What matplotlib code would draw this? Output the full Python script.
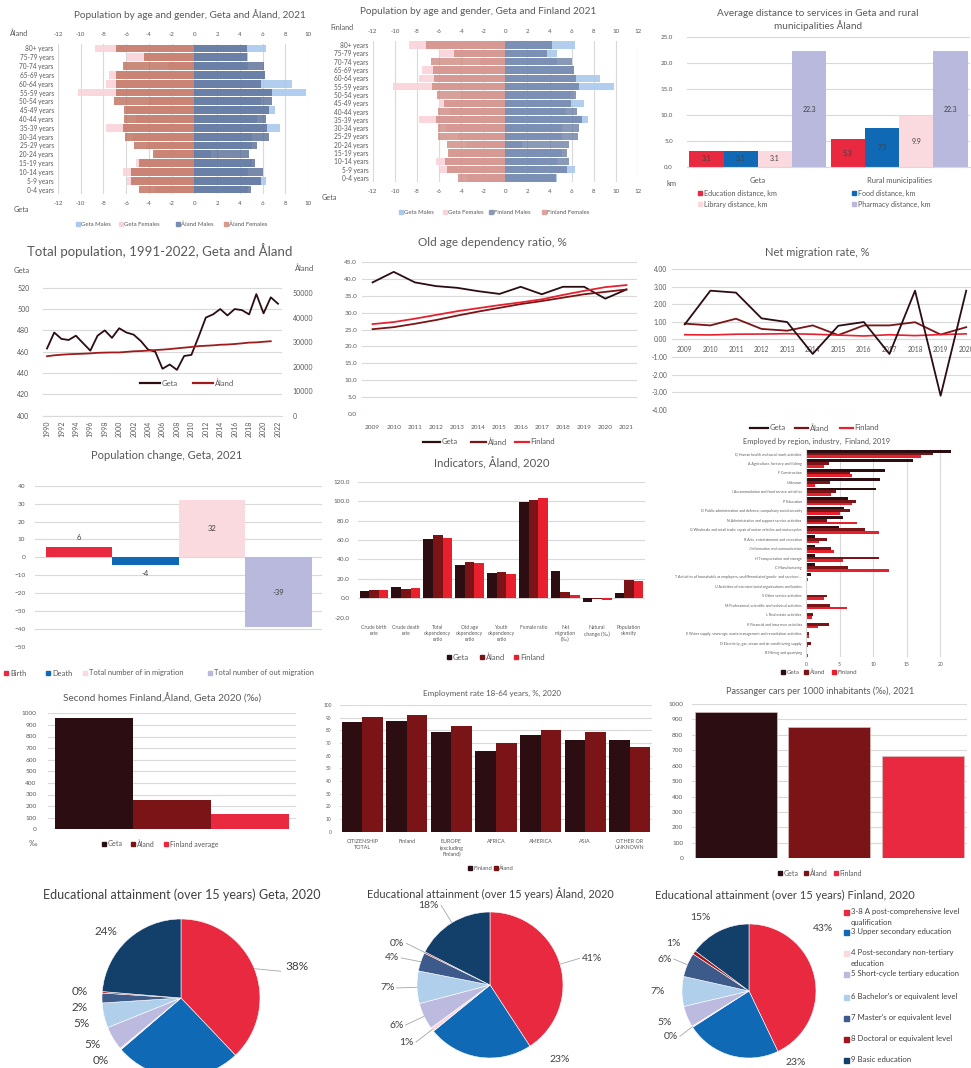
import numpy as np
import matplotlib
matplotlib.use("Agg")
import matplotlib.pyplot as plt
from matplotlib.lines import Line2D

plt.rcParams['font.family'] = ['Lato', 'DejaVu Sans']

# ---------------- data ----------------
age_groups = ['80+ years', '75-79 years', '70-74 years', '65-69 years', '60-64 years',
              '55-59 years', '50-54 years', '45-49 years', '40-44 years', '35-39 years',
              '30-34 years', '25-29 years', '20-24 years', '15-19 years', '10-14 years',
              '5-9 years', '0-4 years']
geta_females = [8.7, 5.9, 2.3, 7.5, 7.8, 10.2, 3.9, 6.0, 5.1, 7.8, 5.4, 4.3, 3.5, 5.1, 6.3, 5.9, 3.5]
geta_males = [6.3, 4.7, 4.7, 6.2, 8.6, 9.8, 5.9, 7.1, 5.5, 7.5, 5.1, 5.1, 1.5, 5.1, 4.7, 6.3, 4.7]
aland_females = [6.9, 4.4, 6.3, 6.9, 6.9, 6.9, 7.1, 6.2, 6.2, 6.3, 6.1, 5.3, 3.6, 4.9, 5.6, 5.6, 4.9]
aland_males = [4.6, 4.6, 6.1, 6.2, 5.9, 6.8, 6.8, 6.6, 6.3, 6.4, 6.6, 5.5, 4.8, 5.3, 6.0, 5.9, 5.0]
finland_females = [7.2, 4.65, 6.7, 6.5, 6.45, 6.6, 6.15, 5.55, 6.05, 6.3, 6.1, 6.05, 5.3, 5.15, 5.45, 5.25, 4.3]
finland_males = [4.2, 3.8, 6.05, 6.25, 6.4, 6.7, 6.35, 5.9, 6.5, 6.9, 6.7, 6.6, 5.75, 5.6, 5.8, 5.6, 4.6]

dist_categories = ['Geta', 'Rural municipalities']
dist_series = ['Education distance, km', 'Food distance, km', 'Library distance, km', 'Pharmacy distance, km']
dist_education = [3.1, 5.3]
dist_food = [3.1, 7.5]
dist_library = [3.1, 9.9]
dist_pharmacy = [22.3, 22.3]

pop_years = list(range(1990, 2023))
geta_pop = [463, 478, 472, 471, 475, 468, 461, 475, 480, 473, 482, 478, 476, 470, 462, 460,
            444, 448, 443, 456, 457, 474, 492, 495, 500, 494, 500, 499, 495, 514, 496, 511, 505]
aland_pop = [24231, 24604, 24847, 25046, 25158, 25257, 25392, 25625, 25706, 25776, 25776,
             26008, 26257, 26347, 26530, 26766, 26923, 27153, 27456, 27734, 28007, 28355,
             28502, 28666, 28916, 29013, 29214, 29489, 29789, 29884, 30129, 30344]

oad_years = list(range(2009, 2022))
oad_geta = [38.9, 42.0, 38.9, 37.8, 37.3, 36.3, 35.5, 37.6, 35.4, 37.6, 37.6, 34.1, 36.8]
oad_aland = [25.1, 25.7, 26.7, 27.8, 29.1, 30.3, 31.4, 32.5, 33.4, 34.4, 35.4, 36.1, 36.8]
oad_finland = [26.6, 27.2, 28.2, 29.3, 30.4, 31.3, 32.2, 33.0, 33.9, 35.2, 36.4, 37.5, 38.1]

mig_years = list(range(2009, 2021))
mig_geta = [0.86, 2.77, 2.66, 1.2, 0.99, -0.82, 0.78, 0.99, -0.82, 2.77, -3.19, 2.77]
mig_aland = [0.9, 0.8, 1.18, 0.6, 0.5, 0.8, 0.25, 0.8, 0.8, 0.98, 0.28, 0.7]
mig_finland = [0.27, 0.26, 0.3, 0.31, 0.33, 0.3, 0.25, 0.2, 0.27, 0.22, 0.28, 0.32]

change_labels = ['Birth', 'Death', 'Total number of in migration', 'Total number of out migration']
change_values = [6, -4, 32, -39]

ind_categories = ['Crude birth\nrate', 'Crude death\nrate', 'Total\ndependency\nratio',
                  'Old age\ndependency\nratio', 'Youth\ndependency\nratio', 'Female ratio',
                  'Net\nmigration\n(‰)', 'Natural\nchange (‰)', 'Population\ndensity']
ind_geta = [8.0, 11.7, 60.7, 34.0, 26.4, 98.8, 27.8, -4.1, 5.8]
ind_aland = [8.7, 9.6, 64.9, 37.7, 27.5, 101.2, 6.9, -0.7, 19.2]
ind_finland = [8.3, 10.3, 61.8, 36.0, 25.4, 102.9, 3.1, -1.7, 18.2]

industries = ['Q Human health and social work activities',
              'A Agriculture, forestry and fishing',
              'F Construction',
              'Unknown',
              'I Accommodation and food service activities',
              'P Education',
              'O Public administration and defence; compulsory social security',
              'N Administrative and support service activities',
              'G Wholesale and retail trade; repair of motor vehicles and motorcycles',
              'R Arts, entertainment and recreation',
              'J Information and communication',
              'H Transportation and storage',
              'C Manufacturing',
              'T Activities of households as employers; undifferentiated goods- and services-...',
              'U Activities of extraterritorial organisations and bodies',
              'S Other service activities',
              'M Professional, scientific and technical activities',
              'L Real estate activities',
              'K Financial and insurance activities',
              'E Water supply; sewerage, waste management and remediation activities',
              'D Electricity, gas, steam and air conditioning supply',
              'B Mining and quarrying']
emp_geta = [21.6, 16.0, 11.8, 11.1, 10.4, 6.3, 5.6, 5.5, 4.9, 1.3, 1.3, 1.3, 1.3, 0.7,
            0.0, 0.0, 0.0, 0.0, 0.0, 0.0, 0.0, 0.0]
emp_aland = [18.9, 3.5, 6.6, 3.6, 4.4, 7.4, 6.5, 3.1, 8.8, 3.1, 3.7, 10.9, 6.2, 0.05,
             0.0, 3.2, 3.6, 1.1, 3.5, 0.4, 0.7, 0.0]
emp_finland = [17.1, 2.7, 6.9, 1.4, 3.7, 6.9, 5.0, 7.6, 10.9, 1.9, 4.2, 5.5, 12.4, 0.25,
               0.01, 2.7, 6.1, 0.9, 1.8, 0.4, 0.35, 0.25]

second_labels = ['Geta', 'Åland', 'Finland average']
second_values = [960, 250, 130]

er_categories = ['CITIZENSHIP\nTOTAL', 'Finland', 'EUROPE\n(excluding\nFinland)', 'AFRICA',
                 'AMERICA', 'ASIA', 'OTHER OR\nUNKNOWN']
er_finland = [86.8, 87.4, 78.9, 63.4, 76.1, 72.4, 72.4]
er_aland = [90.8, 92.1, 83.7, 69.7, 80.3, 78.7, 66.8]

car_labels = ['Geta', 'Åland', 'Finland']
car_values = [946, 849, 663]

edu_labels = ['3-8 A post-comprehensive level\nqualification', '3 Upper secondary education',
              '4 Post-secondary non-tertiary\neducation', '5 Short-cycle tertiary education',
              "6 Bachelor's or equivalent level", "7 Master's or equivalent level",
              '8 Doctoral or equivalent level', '9 Basic education']
edu_geta = [37.9, 25.8, 0.3, 4.9, 5.1, 2.0, 0.3, 23.7]
edu_aland = [40.8, 23.3, 0.9, 5.9, 7.2, 4.1, 0.3, 17.5]
edu_finland = [42.9, 23.0, 0.3, 5.1, 7.2, 5.8, 0.9, 14.8]

# ---------------- style ----------------
W, H = 971, 1068
fig = plt.figure(figsize=(W / 100, H / 100), dpi=100)
fig.patch.set_facecolor('white')

TXT = '#595959'
DTXT = '#404040'
GRID = '#d9d9d9'
C_GETA = '#2b0d12'
C_ALAND = '#7a1416'
C_FIN = '#e8202e'
C_RED = '#e8293f'
C_BLUE = '#0f69b4'
C_PINK = '#fad9df'
C_LAV = '#b9b9dd'
PYR_PINK = '#f9d3da'
PYR_LBLUE = '#a9c9ee'


def add_ax(x0, y0, x1, y1):
    return fig.add_axes([x0 / W, 1 - y1 / H, (x1 - x0) / W, (y1 - y0) / H])


def ftext(x, y, s, size, ha='center', va='center', color=TXT, **kw):
    fig.text(x / W, 1 - y / H, s, fontsize=size, ha=ha, va=va, color=color, **kw)


def leg_sq(x, y, color, label, size=5.0, ms=3.5, tcolor=TXT):
    fig.add_artist(Line2D([x / W], [1 - y / H], marker='s', ms=ms, color=color, lw=0,
                          transform=fig.transFigure))
    ftext(x + ms * 0.7 + 1.5, y, label, size, ha='left', color=tcolor)


def leg_ln(x, y, color, label, size=5.5, length=18, lw=1.6):
    fig.add_artist(Line2D([x / W, (x + length) / W], [1 - y / H, 1 - y / H], color=color,
                          lw=lw, transform=fig.transFigure))
    ftext(x + length + 1.5, y, label, size, ha='left')


def clean(ax, grid='y', lsize=4.5):
    for s in ax.spines.values():
        s.set_visible(False)
    ax.tick_params(length=0, colors=TXT, labelsize=lsize)
    if grid:
        ax.grid(axis=grid, color=GRID, lw=0.8)
    ax.set_axisbelow(True)


# ---------------- pyramids ----------------
def pyramid(rect, xlim, ticks, gf, gm, of, om, c_of, c_om):
    ax = add_ax(*rect)
    n = len(age_groups)
    y = np.arange(n)[::-1]
    ax.barh(y, -np.array(gf), height=0.88, color=PYR_PINK, alpha=0.9)
    ax.barh(y, gm, height=0.88, color=PYR_LBLUE, alpha=0.9)
    ax.barh(y, -np.array(of), height=0.88, color=c_of, alpha=0.82)
    ax.barh(y, om, height=0.88, color=c_om, alpha=0.82)
    ax.set_xlim(*xlim)
    ax.set_ylim(-0.5, n - 0.5)
    ax.set_xticks(ticks)
    ax.set_xticklabels([str(t) for t in ticks])
    ax.set_yticks(y)
    ax.set_yticklabels(age_groups)
    clean(ax, grid='x', lsize=4.4)
    ax.tick_params(axis='y', labelsize=4.7, pad=3)
    ax.tick_params(axis='x', labeltop=True, labelbottom=True, pad=5)
    return ax


pyramid((58, 44, 308, 194), (-12, 10), list(range(-12, 11, 2)),
        geta_females, geta_males, aland_females, aland_males, '#c0725f', '#5b6f98')
ftext(190, 15, 'Population by age and gender, Geta and Åland, 2021', 7.2)
ftext(10, 33, 'Åland', 5.2, ha='left')
ftext(14, 210, 'Geta', 5.2, ha='left')
for x, c, l in zip([78, 121, 178, 226], [PYR_LBLUE, PYR_PINK, '#7a8bb0', '#d49a8c'],
                   ['Geta Males', 'Geta Females', 'Åland Males', 'Åland Females']):
    leg_sq(x, 224, c, l, size=4.3, ms=2.5)

pyramid((372.7, 41, 638, 182), (-12, 12), list(range(-12, 13, 2)),
        geta_females, geta_males, finland_females, finland_males, '#cf8c84', '#6f83a8')
ftext(478, 12, 'Population by age and gender, Geta and Finland 2021', 7.2)
ftext(330, 28, 'Finland', 5.2, ha='left')
ftext(322, 198, 'Geta', 5.2, ha='left')
for x, c, l in zip([401, 445, 491, 544], [PYR_LBLUE, PYR_PINK, '#8a9ab8', '#dba49c'],
                   ['Geta Males', 'Geta Females', 'Finland Males', 'Finland Females']):
    leg_sq(x, 212, c, l, size=4.3, ms=2.5)

# ---------------- distance to services ----------------
ax = add_ax(687, 37, 970, 167)
dist_vals = [dist_education, dist_food, dist_library, dist_pharmacy]
dist_cols = [C_RED, C_BLUE, C_PINK, C_LAV]
xc = np.arange(len(dist_categories))
for k, (vals, col) in enumerate(zip(dist_vals, dist_cols)):
    bars = ax.bar(xc + (k - 1.5) * 0.242, vals, width=0.242, color=col)
    ax.bar_label(bars, labels=[f'{v:.1f}' for v in vals], label_type='center',
                 fontsize=5, color=DTXT)
ax.set_xlim(-0.5, 1.5)
ax.set_ylim(0, 25)
ax.set_yticks(np.arange(0, 26, 5))
ax.set_yticklabels([f'{v:.1f}' for v in np.arange(0, 26, 5)])
ax.set_xticks(xc)
ax.set_xticklabels(dist_categories)
clean(ax, lsize=4.5)
ax.tick_params(axis='x', labelsize=5.5, pad=7)
ax.tick_params(axis='y', pad=10)
ax.spines['bottom'].set_visible(True)
ax.spines['bottom'].set_color(GRID)
ftext(818, 13, 'Average distance to services in Geta and rural', 7.2)
ftext(818, 26, 'municipalities Åland', 7.2)
ftext(672, 183, 'km', 5.5)
leg_sq(700, 193, C_RED, dist_series[0], size=5.2)
leg_sq(854, 193, C_BLUE, dist_series[1], size=5.2)
leg_sq(700, 204, C_PINK, dist_series[2], size=5.2)
leg_sq(854, 204, C_LAV, dist_series[3], size=5.2)

# ---------------- total population ----------------
ax = add_ax(43.4, 281, 281.6, 415.7)
ax.plot(pop_years, geta_pop, color=C_GETA, lw=1.3, zorder=3)
ax.set_xlim(1989.5, 2022.5)
ax.set_ylim(400, 526.3)
ax.set_yticks(range(400, 521, 20))
ax.set_xticks(range(1990, 2023, 2))
ax.set_xticklabels([str(y) for y in range(1990, 2023, 2)], rotation=90)
clean(ax, lsize=5)
ax.spines['bottom'].set_visible(True)
ax.spines['bottom'].set_color(GRID)
ax.tick_params(axis='y', pad=10)
ax2 = ax.twinx()
ax2.plot(pop_years[:len(aland_pop)], aland_pop, color='#a01c1c', lw=1.3)
ax2.set_ylim(0, 54890)
ax2.set_yticks(range(0, 50001, 10000))
clean(ax2, grid=None, lsize=5)
ax2.tick_params(axis='y', pad=8)
ftext(160, 251, 'Total population, 1991-2022, Geta and Åland', 9.5)
ftext(22, 270, 'Geta', 5.5)
ftext(305, 268, 'Åland', 5.5)
leg_ln(140, 383, C_GETA, 'Geta', size=5.5, length=20)
leg_ln(193, 383, '#a01c1c', 'Åland', size=5.5, length=20)

# ---------------- old age dependency ----------------
ax = add_ax(362, 261.7, 637, 414.3)
ax.plot(oad_years, oad_geta, color=C_GETA, lw=1.3)
ax.plot(oad_years, oad_aland, color=C_ALAND, lw=1.3)
ax.plot(oad_years, oad_finland, color=C_FIN, lw=1.3)
ax.set_xlim(2008.5, 2021.5)
ax.set_ylim(0, 45)
ax.set_yticks(np.arange(0, 46, 5))
ax.set_yticklabels([f'{v:.1f}' for v in np.arange(0, 46, 5)])
ax.set_xticks(oad_years)
clean(ax, lsize=4.6)
ax.tick_params(axis='x', pad=8)
ftext(492, 243, 'Old age dependency ratio, %', 8.5)
leg_ln(423, 442, C_GETA, 'Geta', size=5.5, length=17)
leg_ln(471, 442, C_ALAND, 'Åland', size=5.5, length=15)
leg_ln(515, 442, C_FIN, 'Finland', size=5.5, length=14)

# ---------------- net migration ----------------
ax = add_ax(672, 269, 979, 410)
ax.plot(mig_years, mig_geta, color=C_GETA, lw=1.3, zorder=3)
ax.plot(mig_years, mig_aland, color=C_ALAND, lw=1.3, zorder=2)
ax.plot(mig_years, mig_finland, color=C_FIN, lw=1.2, zorder=2)
ax.set_xlim(2008.5, 2020.5)
ax.set_ylim(-4, 4)
ax.set_yticks(range(-4, 5))
ax.set_yticklabels([f'{v:.2f}' for v in range(-4, 5)])
ax.set_xticks(mig_years)
clean(ax, lsize=4.8)
ax.spines['bottom'].set_visible(True)
ax.spines['bottom'].set_color(GRID)
ax.spines['bottom'].set_position(('data', 0))
ax.tick_params(axis='x', pad=5)
ftext(817, 252, 'Net migration rate, %', 8.0)
leg_ln(750, 428, C_GETA, 'Geta', size=5.5, length=18)
leg_ln(795, 428, C_ALAND, 'Åland', size=5.5, length=13)
leg_ln(840, 428, C_FIN, 'Finland', size=5.5, length=13)

# ---------------- population change ----------------
ax = add_ax(35, 485.7, 322, 647)
ch_cols = [C_RED, C_BLUE, C_PINK, C_LAV]
bars = ax.bar(range(len(change_values)), change_values, width=1.0, color=ch_cols)
ax.set_xlim(-0.66, 3.65)
ax.set_ylim(-50, 40)
ax.set_yticks(range(-50, 41, 10))
ax.set_xticks([])
clean(ax, lsize=4.6)
ax.tick_params(axis='y', pad=7)
for i, v in enumerate(change_values):
    if abs(v) < 10:
        yy = v + (5 if v > 0 else -5)
    else:
        yy = v / 2
    ax.text(i, yy, str(v), ha='center', va='center', fontsize=5.5, color=DTXT)
ftext(167, 456, 'Population change, Geta, 2021', 8.0)
for x, c, l in zip([6, 48, 85, 210], ch_cols, change_labels):
    leg_sq(x, 673, c, l, size=5.4)

# ---------------- indicators ----------------
ax = add_ax(358, 481.7, 645, 617.7)
xi = np.arange(len(ind_categories))
for k, (vals, col) in enumerate(zip([ind_geta, ind_aland, ind_finland], [C_GETA, C_ALAND, C_FIN])):
    ax.bar(xi + (k - 1) * 0.3, vals, width=0.3, color=col)
ax.set_xlim(-0.5, len(ind_categories) - 0.5)
ax.set_ylim(-20, 120)
ax.set_yticks(range(-20, 121, 20))
ax.set_yticklabels([f'{v:.1f}' for v in range(-20, 121, 20)])
ax.set_xticks(xi)
ax.set_xticklabels(ind_categories, fontsize=3.6, va='top', linespacing=1.3)
clean(ax, lsize=4.6)
ax.tick_params(axis='x', labelsize=3.6, pad=5)
ax.tick_params(axis='y', pad=6)
ftext(492, 463, 'Indicators, Åland, 2020', 8.2)
leg_sq(449, 657, C_GETA, 'Geta', size=5.5, ms=3.5)
leg_sq(482, 657, C_ALAND, 'Åland', size=5.5, ms=3.5)
leg_sq(516, 657, C_FIN, 'Finland', size=5.5, ms=3.5)

# ---------------- employed by industry ----------------
ax = add_ax(806, 449.3, 967, 657.4)
yi = np.arange(len(industries))
ax.barh(yi - 0.29, emp_geta, height=0.29, color=C_GETA)
ax.barh(yi, emp_aland, height=0.29, color=C_ALAND)
ax.barh(yi + 0.29, emp_finland, height=0.29, color=C_FIN)
ax.set_ylim(len(industries) - 0.5, -0.5)
ax.set_xlim(0, 24)
ax.set_xticks(range(0, 21, 5))
ax.set_yticks(yi)
ax.set_yticklabels(industries, fontsize=2.6)
clean(ax, grid='x', lsize=3.6)
ax.tick_params(axis='y', labelsize=2.6, pad=3)
ax.spines['left'].set_visible(True)
ax.spines['left'].set_color(GRID)
ftext(817, 441, 'Employed by region, industry,  Finland, 2019', 5.4)
leg_sq(783, 672, C_GETA, 'Geta', size=4.4, ms=3)
leg_sq(806, 672, C_ALAND, 'Åland', size=4.4, ms=3)
leg_sq(834, 672, C_FIN, 'Finland', size=4.4, ms=3)

# ---------------- second homes ----------------
ax = add_ax(47.7, 713.3, 296.4, 829.3)
sh_cols = [C_GETA, C_ALAND, C_RED]
ax.bar(range(len(second_values)), second_values, width=1.0, color=sh_cols)
ax.set_xlim(-0.594, 2.594)
ax.set_ylim(0, 1000)
ax.set_yticks(range(0, 1001, 100))
ax.set_xticks([])
clean(ax, lsize=4.6)
ax.tick_params(axis='y', pad=8)
ftext(162, 698, 'Second homes Finland,Åland, Geta 2020 (‰)', 7.2)
ftext(33, 844, '‰', 5.2)
for x, c, l in zip([104, 133, 166], sh_cols, second_labels):
    leg_sq(x, 844, c, l, size=5.0, ms=3.2)

# ---------------- employment rate ----------------
ax = add_ax(340, 705, 652, 831.7)
xe = np.arange(len(er_categories))
ax.bar(xe - 0.23, er_finland, width=0.46, color=C_GETA)
ax.bar(xe + 0.23, er_aland, width=0.46, color=C_ALAND)
ax.set_xlim(-0.5, len(er_categories) - 0.5)
ax.set_ylim(0, 100)
ax.set_yticks(range(0, 101, 10))
ax.set_xticks(xe)
ax.set_xticklabels(er_categories, linespacing=1.3)
clean(ax, lsize=3.4)
ax.tick_params(axis='x', labelsize=3.9, pad=5)
ax.tick_params(axis='y', pad=6)
ftext(492, 693, 'Employment rate 18-64 years, %, 2020', 5.8)
leg_sq(470, 868, C_GETA, 'Finland', size=4.2, ms=2.8)
leg_sq(496, 868, C_ALAND, 'Åland', size=4.2, ms=2.8)

# ---------------- passenger cars ----------------
ax = add_ax(691.7, 704, 966.7, 858.3)
ax.bar(range(len(car_values)), car_values, width=0.88, color=[C_GETA, C_ALAND, C_RED],
       edgecolor='#d8c0c0', linewidth=0.5)
ax.set_xlim(-0.474, 2.47)
ax.set_ylim(0, 1000)
ax.set_yticks(range(0, 1001, 100))
ax.set_xticks([])
clean(ax, lsize=4.6)
ax.tick_params(axis='y', pad=6)
ftext(820, 691, 'Passanger cars per 1000 inhabitants (‰), 2021', 6.6)
for x, c, l in zip([780, 806, 836], [C_GETA, C_ALAND, C_RED], car_labels):
    leg_sq(x, 873, c, l, size=5.0, ms=3.2)

# ---------------- pies ----------------
edu_colors = ['#e8293f', '#0f69b4', '#f9d9de', '#bcbade', '#b0cfeb', '#3c5a8a', '#a3151c', '#13406b']
PIEFONT = ['Liberation Sans Narrow', 'Lato', 'DejaVu Sans']


def pie(cx, cy, r, vals, lsize, dist=1.25, gap=0.22, place=None):
    """place: optional {slice index: (angle_deg, distance)} for best-fit style label spots."""
    place = place or {}
    ext = 1.8
    ax = add_ax(cx - ext * r, cy - ext * r, cx + ext * r, cy + ext * r)
    ax.pie(vals, colors=edu_colors, startangle=90, counterclock=False, radius=1,
           wedgeprops=dict(edgecolor='white', linewidth=0.4))
    ax.set_xlim(-ext, ext)
    ax.set_ylim(-ext, ext)
    ax.set_aspect('equal')
    ax.axis('off')
    total = float(sum(vals))
    cum = 0.0
    items = []
    for i, v in enumerate(vals):
        mid = np.deg2rad(90 - 360 * (cum + v / 2) / total)
        cum += v
        items.append([np.cos(mid), np.sin(mid), dist * np.cos(mid), dist * np.sin(mid), v, i])
    for side in (-1, 1):
        grp = [it for it in items if (it[0] < 0) == (side < 0) and it[5] not in place]
        grp.sort(key=lambda it: -it[3])
        for j in range(1, len(grp)):
            if grp[j][3] > grp[j - 1][3] - gap:
                grp[j][3] = grp[j - 1][3] - gap
    for ex, ey, lx, ly, v, i in items:
        lbl = f'{round(100 * v / total):.0f}%'
        if i in place:
            ang, d = place[i]
            lx, ly = d * np.cos(np.deg2rad(ang)), d * np.sin(np.deg2rad(ang))
            ax.text(lx, ly, lbl, ha='center', va='center', fontsize=lsize,
                    color=DTXT, family=PIEFONT, clip_on=False)
            if d > 1.4 and abs(ang - np.degrees(np.arctan2(ey, ex))) < 20:
                ax.plot([ex, lx * 0.86], [ey, ly * 0.86], color='#a6a6a6', lw=0.6, clip_on=False)
            continue
        ha = 'left' if lx >= 0 else 'right'
        ax.text(lx + (0.03 if lx >= 0 else -0.03), ly, lbl, ha=ha, va='center', fontsize=lsize,
                color=DTXT, family=PIEFONT, clip_on=False)
        if np.hypot(lx - ex, ly - ey) > 0.22:
            ax.plot([ex, lx], [ey, ly], color='#a6a6a6', lw=0.6, clip_on=False)
    return ax


pie(181, 998, 79, edu_geta, 8.5, dist=1.15, gap=0.2, place={0: (15, 1.52)})
fig.text(182 / W, 1 - 895 / H, 'Educational attainment (over 15 years) Geta, 2020', fontsize=9.0,
         ha='center', va='center', color=DTXT, family=PIEFONT)
pie(490, 985, 73, edu_aland, 7.5, dist=1.28, gap=0.2, place={1: (-47, 1.4)})
fig.text(490 / W, 1 - 894 / H, 'Educational attainment (over 15 years) Åland, 2020', fontsize=7.8,
         ha='center', va='center', color=DTXT, family=PIEFONT)
pie(749, 991, 67, edu_finland, 7.5, dist=1.22, gap=0.21, place={0: (40, 1.45), 1: (-57, 1.27)})
fig.text(785 / W, 1 - 895 / H, 'Educational attainment (over 15 years) Finland, 2020', fontsize=8.0,
         ha='center', va='center', color=DTXT, family=PIEFONT)

leg_y = [912, 932, 953, 974, 997, 1018, 1039, 1060]
for yv, c, l in zip(leg_y, edu_colors, edu_labels):
    fig.add_artist(Line2D([846 / W], [1 - yv / H], marker='s', ms=3.6, color=c, lw=0,
                          transform=fig.transFigure))
    fig.text(851 / W, 1 - (yv - 4) / H, l, fontsize=5.6, ha='left', va='top', color=DTXT,
             family=PIEFONT, linespacing=1.6)

fig.savefig('out.png', dpi=100, facecolor='white')
